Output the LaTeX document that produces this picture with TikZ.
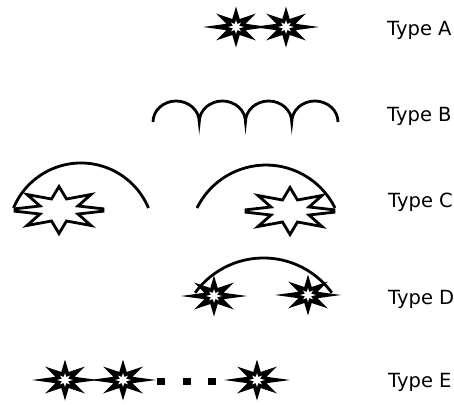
\documentclass[tikz,border=0pt]{standalone}
\usepackage{fontspec}
\setmainfont{DejaVu Sans}
\tikzset{
  starA/.pic={
    \fill[black]
      (33,0) -- (9.5,3.2) -- (20,13.5) -- (3.7,8) -- (0,20.5) -- (-3.7,8) -- (-20,13.5) -- (-9.5,3.2)
      -- (-33,0) -- (-9.5,-3.2) -- (-20,-13.5) -- (-3.7,-8) -- (0,-20.5) -- (3.7,-8) -- (20,-13.5) -- (9.5,-3.2) -- cycle;
    \fill[white]
      (8,0) -- (3,1.3) -- (5,4.4) -- (1.3,3) -- (0,7) -- (-1.3,3) -- (-5,4.4) -- (-3,1.3)
      -- (-8,0) -- (-3,-1.3) -- (-5,-4.4) -- (-1.3,-3) -- (0,-7) -- (1.3,-3) -- (5,-4.4) -- (3,-1.3) -- cycle;
  },
  starC/.pic={
    \draw[line width=2.8pt,fill=white,line join=miter]
      (44,1.2) -- (19,4) -- (32,15.5) -- (7.5,11) -- (0,23.5) -- (-7.5,11) -- (-32,15.5) -- (-19,4)
      -- (-44,1.2) -- (-44,-1.2) -- (-19,-4) -- (-32,-15.5) -- (-7.5,-11) -- (0,-23.5) -- (7.5,-11) -- (32,-15.5) -- (19,-4)
      -- (44,-1.2) -- cycle;
  },
  curve/.style={line width=2.8pt},
  lbl/.style={anchor=base west,inner sep=0pt,font=\fontsize{19.5}{23}\selectfont},
  dots/.style={line width=7pt,dash pattern=on 8pt off 17.5pt}
}
\begin{document}
\begin{tikzpicture}[x=1pt,y=1pt]
\useasboundingbox (0,0) rectangle (454,-404);
% Type A
\pic at (236,-27) {starA};
\pic at (286,-27) {starA};
\node[lbl] (la) at (387,-35) {Type A};
% Type B
\draw[curve] (153,-122)
  arc[start angle=180,end angle=0,x radius=23.125,y radius=21]
  arc[start angle=180,end angle=0,x radius=23.125,y radius=21]
  arc[start angle=180,end angle=0,x radius=23.125,y radius=21]
  arc[start angle=180,end angle=0,x radius=23.125,y radius=21];
\node[lbl] (lb) at (387,-121) {Type B};
% Type C
\draw[curve] (13.5,-208) arc[start angle=157.4,end angle=22.6,radius=73.1];
\pic at (59,-210) {starC};
\draw[curve] (197,-208) arc[start angle=153.8,end angle=26.2,radius=76.9];
\pic at (290,-211) {starC};
\node[lbl] (lc) at (388,-207) {Type C};
% Type D
\draw[curve] (195.1,-292.8) arc[start angle=144,end angle=36,radius=84.5];
\pic at (214,-296) {starA};
\pic at (308,-295) {starA};
\node[lbl] (ld) at (388,-304) {Type D};
% Type E
\pic at (65,-380) {starA};
\pic at (123,-380) {starA};
\pic at (257,-380) {starA};
\coordinate (e2r) at (157,-381.5);
\coordinate (e3l) at (216,-381.5);
\draw[dots] (e2r) -- (e3l);
\node[lbl] (le) at (388,-387) {Type E};
\end{tikzpicture}
\end{document}
